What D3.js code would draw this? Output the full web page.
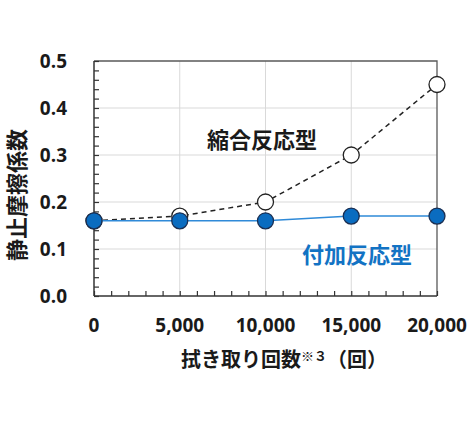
<!DOCTYPE html>
<html><head><meta charset="utf-8">
<script src="https://cdn.jsdelivr.net/npm/d3@7"></script>
<style>body{margin:0;background:#fff}</style>
</head><body><svg id="c" width="470" height="426"></svg>
<script>
const xValues = [0, 5000, 10000, 15000, 20000];
const condensation = [0.16, 0.17, 0.20, 0.30, 0.45];   // 縮合反応型
const addition = [0.16, 0.16, 0.16, 0.17, 0.17];       // 付加反応型
const xTicks = [0, 5000, 10000, 15000, 20000];
const yTicks = [0, 0.1, 0.2, 0.3, 0.4, 0.5];
const seriesNames = ["縮合反応型", "付加反応型"];

const svg = d3.select("#c");
const L = 94, R = 437, T = 61, B = 296;
const x = d3.scaleLinear().domain([0, 20000]).range([L, R]);
const y = d3.scaleLinear().domain([0, 0.5]).range([B, T]);
const numFont = "'Open Sans','Noto Sans',sans-serif";
const jpFont = "'Noto Sans CJK JP',sans-serif";

// grid
svg.append("g").selectAll("line").data(yTicks.filter(d => d > 0 && d < 0.5)).join("line")
  .attr("x1", L).attr("x2", R).attr("y1", d => y(d)).attr("y2", d => y(d))
  .attr("stroke", "#d9d9d9").attr("stroke-width", 1);
svg.append("g").selectAll("line").data(xTicks.filter(d => d > 0 && d < 20000)).join("line")
  .attr("y1", T).attr("y2", B).attr("x1", d => x(d)).attr("x2", d => x(d))
  .attr("stroke", "#d9d9d9").attr("stroke-width", 1);

// top/right border
svg.append("path").attr("d", `M${L},${T}H${R}V${B}`).attr("fill", "none")
  .attr("stroke", "#595959").attr("stroke-width", 1.3);

// axes with inward minor ticks
const yAxis = d3.axisRight(y).tickValues(d3.range(0, 0.5001, 0.02)).tickSize(5).tickFormat("");
svg.append("g").attr("transform", `translate(${L},0)`).call(yAxis)
  .call(g => g.select(".domain").attr("stroke", "#333").attr("stroke-width", 1.5).attr("d", `M0,${T}V${B}`))
  .call(g => g.selectAll(".tick line").attr("stroke", "#333").attr("stroke-width", 1.2));
const xAxis = d3.axisTop(x).tickValues(d3.range(0, 20001, 1000)).tickSize(5).tickFormat("");
svg.append("g").attr("transform", `translate(0,${B})`).call(xAxis)
  .call(g => g.select(".domain").attr("stroke", "#333").attr("stroke-width", 1.5).attr("d", `M${L},0H${R}`))
  .call(g => g.selectAll(".tick line").attr("stroke", "#333").attr("stroke-width", 1.2));

// tick labels
svg.append("g").selectAll("text").data(yTicks).join("text")
  .attr("x", 67).attr("y", d => y(d)).attr("dy", "0.35em").attr("text-anchor", "end")
  .attr("font-family", numFont).attr("font-weight", "bold").attr("font-size", 19).attr("fill", "#1a1a1a")
  .text(d => d3.format(".1f")(d));
svg.append("g").selectAll("text").data(xTicks).join("text")
  .attr("x", d => x(d)).attr("y", 325).attr("dy", "0.35em").attr("text-anchor", "middle")
  .attr("font-family", numFont).attr("font-weight", "bold").attr("font-size", 19).attr("fill", "#1a1a1a")
  .text(d => d3.format(",")(d));

// axis titles
svg.append("text").attr("transform", `translate(17,195) rotate(-90)`)
  .attr("text-anchor", "middle").attr("dy", "0.35em")
  .attr("font-family", jpFont).attr("font-weight", "bold").attr("font-size", 22).attr("fill", "#1a1a1a")
  .text("静止摩擦係数");
const xt = svg.append("text").attr("x", 284).attr("y", 360).attr("dy", "0.35em").attr("text-anchor", "middle")
  .attr("font-family", jpFont).attr("font-weight", "bold").attr("font-size", 20).attr("fill", "#1a1a1a");
xt.append("tspan").text("拭き取り回数");
xt.append("tspan").attr("font-size", 13).attr("dy", "-0.5em").text("※３");
xt.append("tspan").attr("dy", "0.33em").text("（回）");

// lines
const line = (vals) => d3.line().x((d, i) => x(xValues[i])).y(d => y(d))(vals);
svg.append("path").attr("d", line(condensation)).attr("fill", "none")
  .attr("stroke", "#222").attr("stroke-width", 1.5).attr("stroke-dasharray", "5,4");
svg.append("g").selectAll("circle").data(condensation).join("circle")
  .attr("cx", (d, i) => x(xValues[i])).attr("cy", d => y(d)).attr("r", 8)
  .attr("fill", "#fff").attr("stroke", "#222").attr("stroke-width", 1.3);
svg.append("path").attr("d", line(addition)).attr("fill", "none")
  .attr("stroke", "#2f8ad8").attr("stroke-width", 1.5);
svg.append("g").selectAll("circle").data(addition).join("circle")
  .attr("cx", (d, i) => x(xValues[i])).attr("cy", d => y(d)).attr("r", 8)
  .attr("fill", "#0a6cc0").attr("stroke", "#1b2f52").attr("stroke-width", 1.3);

// series labels
svg.append("text").attr("x", 262).attr("y", 140).attr("dy", "0.35em").attr("text-anchor", "middle")
  .attr("font-family", jpFont).attr("font-weight", "bold").attr("font-size", 22).attr("fill", "#1a1a1a")
  .text(seriesNames[0]);
svg.append("text").attr("x", 357).attr("y", 255).attr("dy", "0.35em").attr("text-anchor", "middle")
  .attr("font-family", jpFont).attr("font-weight", "bold").attr("font-size", 22).attr("fill", "#1273c4")
  .text(seriesNames[1]);
</script></body></html>
